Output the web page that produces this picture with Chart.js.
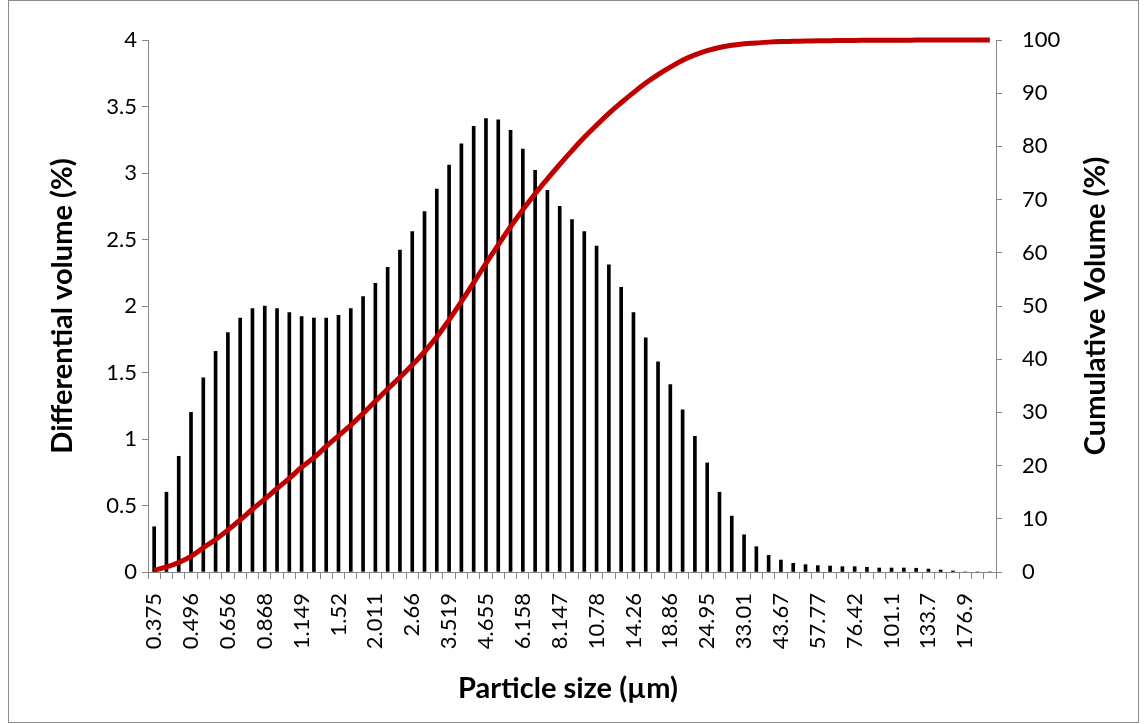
<!DOCTYPE html>
<html>
<head>
<meta charset="utf-8">
<title>Particle size distribution</title>
<script src="https://cdn.jsdelivr.net/npm/chart.js@4.4.1/dist/chart.umd.min.js"></script>
<style>
    html, body { margin: 0; padding: 0; background: #fff; }
    canvas { display: block; }
</style>
</head>
<body>
<canvas id="psdChart" width="1144" height="724"></canvas>
<script>
// Particle size bins (µm)
const sizes = [
    0.375, 0.412, 0.452, 0.496, 0.545, 0.598, 0.656, 0.721, 0.791, 0.868,
    0.953, 1.047, 1.149, 1.261, 1.385, 1.52, 1.669, 1.832, 2.011, 2.208,
    2.423, 2.66, 2.92, 3.206, 3.519, 3.863, 4.241, 4.655, 5.111, 5.611,
    6.158, 6.761, 7.421, 8.147, 8.943, 9.817, 10.78, 11.83, 12.99, 14.26,
    15.65, 17.18, 18.86, 20.71, 22.73, 24.95, 27.39, 30.07, 33.01, 36.24,
    39.78, 43.67, 47.94, 52.62, 57.77, 63.41, 69.61, 76.42, 83.89, 92.09,
    101.1, 111, 121.8, 133.7, 146.8, 161.2, 176.9, 194.2, 213.2
];

// Differential volume (%)
const differential = [
    0.34, 0.60, 0.87, 1.20, 1.46, 1.66, 1.80, 1.91, 1.98, 2.00,
    1.98, 1.95, 1.92, 1.91, 1.91, 1.93, 1.98, 2.07, 2.17, 2.29,
    2.42, 2.56, 2.71, 2.88, 3.06, 3.22, 3.35, 3.41, 3.40, 3.32,
    3.18, 3.02, 2.87, 2.75, 2.65, 2.56, 2.45, 2.31, 2.14, 1.95,
    1.76, 1.58, 1.41, 1.22, 1.02, 0.82, 0.60, 0.42, 0.28, 0.19,
    0.125, 0.09, 0.065, 0.055, 0.048, 0.045, 0.04, 0.04, 0.035, 0.03,
    0.03, 0.03, 0.028, 0.022, 0.015, 0.008, 0, 0, 0
];

// Cumulative volume (%)
const cumulative = [
    0.34, 0.95, 1.8, 2.95, 4.55, 6.1, 7.9, 9.8, 11.8, 13.7,
    15.7, 17.6, 19.7, 21.5, 23.6, 25.6, 27.6, 29.8, 32.1, 34.4,
    36.6, 38.9, 41.4, 44.2, 47.4, 50.8, 54.4, 58.0, 61.5, 64.9,
    68.1, 71.1, 73.9, 76.6, 79.2, 81.7, 84.0, 86.2, 88.2, 90.1,
    91.9, 93.5, 94.9, 96.2, 97.2, 98.0, 98.6, 99.0, 99.3, 99.45,
    99.6, 99.7, 99.75, 99.8, 99.85, 99.88, 99.9, 99.92, 99.94, 99.95,
    99.96, 99.97, 99.98, 99.99, 100, 100, 100, 100, 100
];

const xTitle = 'Particle size (µm)';
const yTitle = 'Differential volume (%)';
const y2Title = 'Cumulative Volume (%)';

const AXIS_GREY = '#868686';
const FONT = 'Lato';

// Outer frame and the three axis titles (right one reads bottom-to-top like the left one)
const titlesPlugin = {
    id: 'titles',
    afterDraw(chart) {
        const { ctx, chartArea } = chart;
        const midY = (chartArea.top + chartArea.bottom) / 2;
        const midX = (chartArea.left + chartArea.right) / 2;

        ctx.save();
        ctx.strokeStyle = '#8c8c8c';
        ctx.lineWidth = 1;
        ctx.strokeRect(8.5, 0.5, 1130, 722);

        ctx.fillStyle = '#000';
        ctx.font = `bold 29px ${FONT}`;
        ctx.textAlign = 'center';
        ctx.textBaseline = 'middle';
        ctx.fillText(xTitle, midX - 4, 689);

        ctx.save();
        ctx.translate(63, midY);
        ctx.rotate(-Math.PI / 2);
        ctx.fillText(yTitle, 0, 0);
        ctx.restore();

        ctx.save();
        ctx.translate(1096, midY);
        ctx.rotate(-Math.PI / 2);
        ctx.fillText(y2Title, 0, 0);
        ctx.restore();

        ctx.restore();
    }
};

Chart.defaults.font.family = FONT;
Chart.defaults.color = '#000';

const ctx = document.getElementById('psdChart').getContext('2d');
const psdChart = new Chart(ctx, {
    data: {
        labels: sizes,
        datasets: [
            {
                type: 'line',
                data: cumulative,
                yAxisID: 'y2',
                borderColor: '#C00000',
                borderWidth: 5,
                pointRadius: 0,
                tension: 0.4,
                clip: false,
                order: 0
            },
            {
                type: 'bar',
                data: differential,
                yAxisID: 'y',
                backgroundColor: '#000',
                barThickness: 3,
                order: 1
            }
        ]
    },
    options: {
        responsive: false,
        animation: false,
        devicePixelRatio: 1,
        layout: { padding: { top: 40 } },
        plugins: {
            legend: { display: false },
            tooltip: { enabled: false }
        },
        scales: {
            x: {
                offset: true,
                afterFit: (scale) => { scale.height = 152; },
                grid: {
                    offset: true,
                    drawOnChartArea: false,
                    tickLength: 7,
                    color: AXIS_GREY
                },
                border: { color: AXIS_GREY },
                ticks: {
                    autoSkip: false,
                    maxRotation: 90,
                    minRotation: 90,
                    padding: 14,
                    font: { size: 22 },
                    // only every third bin carries a label
                    callback: (value, index) => index % 3 === 0 ? String(sizes[index]) : ''
                }
            },
            y: {
                position: 'left',
                min: 0,
                max: 4,
                afterFit: (scale) => { scale.width = 148; },
                grid: {
                    drawOnChartArea: false,
                    tickLength: 6,
                    color: AXIS_GREY
                },
                border: { color: AXIS_GREY },
                ticks: {
                    stepSize: 0.5,
                    padding: 5,
                    font: { size: 22 },
                    callback: (value) => String(value)
                }
            },
            y2: {
                position: 'right',
                min: 0,
                max: 100,
                afterFit: (scale) => { scale.width = 148; },
                grid: {
                    drawOnChartArea: false,
                    tickLength: 6,
                    color: AXIS_GREY
                },
                border: { color: AXIS_GREY },
                ticks: {
                    stepSize: 10,
                    padding: 20,
                    font: { size: 22 }
                }
            }
        }
    },
    plugins: [titlesPlugin]
});
</script>
</body>
</html>
